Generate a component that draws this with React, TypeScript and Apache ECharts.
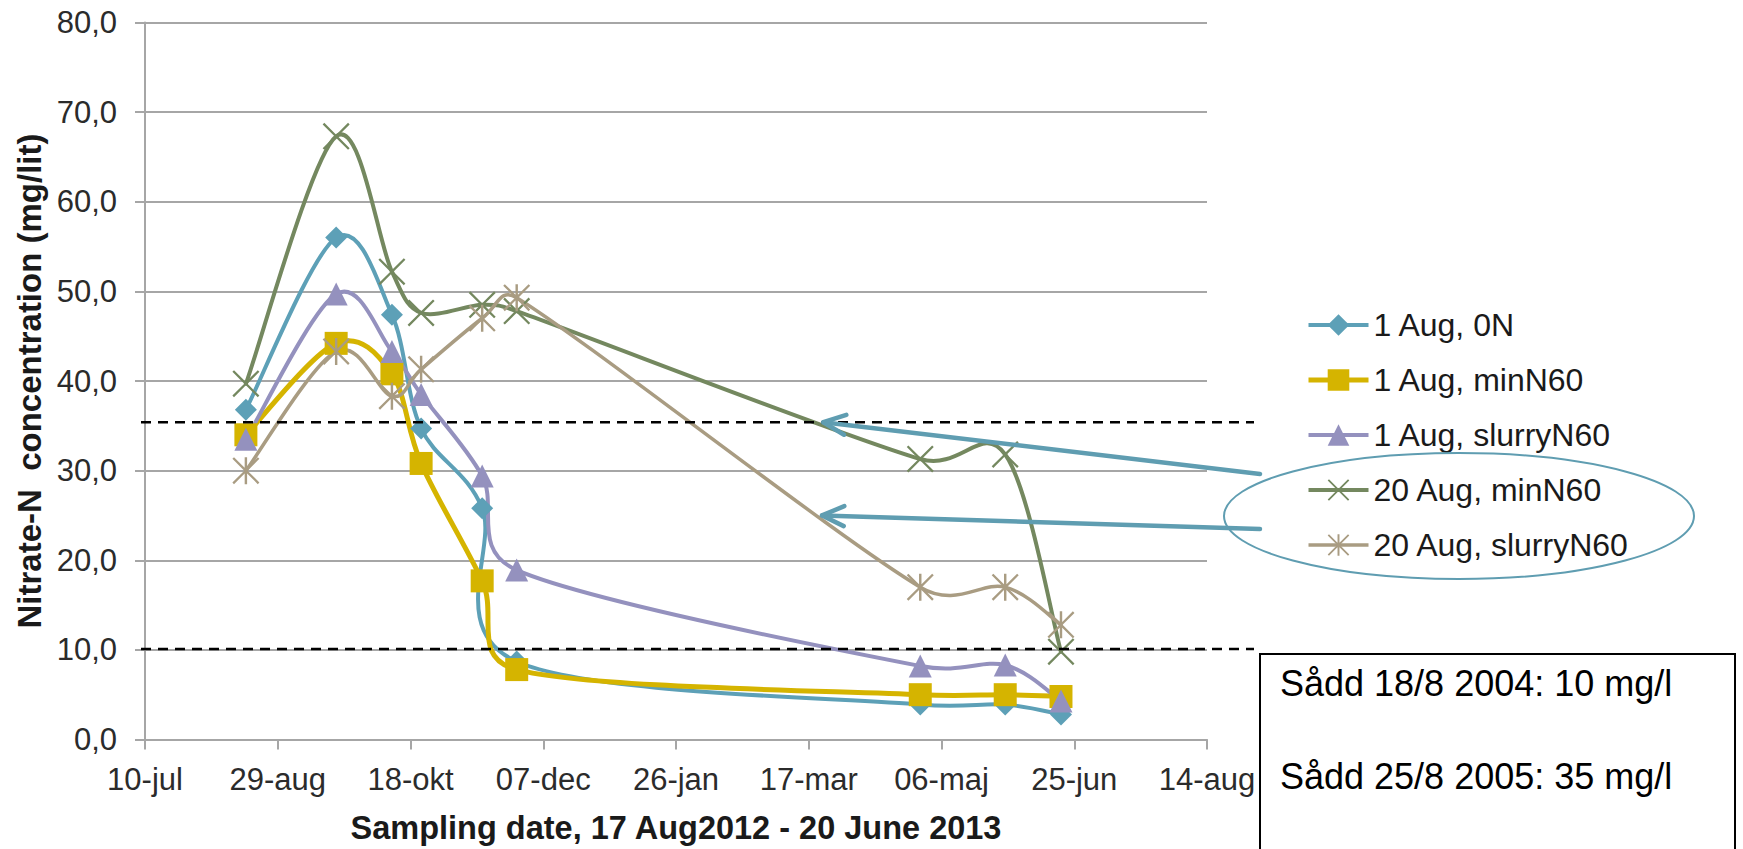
import { useEffect, useRef } from "react";
import * as echarts from "echarts";

// ---------- data ----------
const AXIS_START = "2012-07-10";
const X_TICK_STEP_DAYS = 50;
const X_TICK_LABELS = ["10-jul", "29-aug", "18-okt", "07-dec", "26-jan", "17-mar", "06-maj", "25-jun", "14-aug"];
const Y_TICK_LABELS = ["0,0", "10,0", "20,0", "30,0", "40,0", "50,0", "60,0", "70,0", "80,0"];
const Y_TICK_STEP = 10;

const SAMPLE_DATES = [
  "2012-08-17", "2012-09-20", "2012-10-11", "2012-10-22", "2012-11-14",
  "2012-11-27", "2013-04-28", "2013-05-30", "2013-06-20",
];

const SERIES_NAMES = ["1 Aug, 0N", "1 Aug, minN60", "1 Aug, slurryN60", "20 Aug, minN60", "20 Aug, slurryN60"];
const AUG1_0N = [36.8, 56.0, 47.4, 34.7, 25.8, 8.7, 3.9, 3.9, 2.8];
const AUG1_MIN_N60 = [34.0, 44.2, 40.8, 30.8, 17.7, 7.8, 5.0, 5.0, 4.8];
const AUG1_SLURRY_N60 = [33.5, 49.7, 43.3, 38.5, 29.4, 18.9, 8.2, 8.3, 4.3];
const AUG20_MIN_N60 = [39.7, 67.3, 52.2, 47.6, 48.5, 47.8, 31.3, 31.8, 9.8];
const AUG20_SLURRY_N60 = [30.0, 43.3, 38.3, 41.3, 47.0, 49.3, 17.0, 17.0, 12.8];

// threshold lines (mg/l) and the points the arrows aim at [day, value]
const THRESHOLD_HIGH = 35.4;
const THRESHOLD_LOW = 10.1;
const ARROW_TARGETS = [
  [255.5, 35.4],
  [255.0, 25.0],
];
const NOTE_LINES = ["Sådd 18/8 2004: 10 mg/l", "Sådd 25/8 2005: 35 mg/l"];

const X_AXIS_TITLE = "Sampling date, 17 Aug2012 - 20 June 2013";
const Y_AXIS_TITLE = "Nitrate-N  concentration (mg/lit)";

// ---------- helpers ----------
const DAY_MS = 86400000;
const toDay = (s: string) => {
  const [y, m, d] = s.split("-").map(Number);
  const [y0, m0, d0] = AXIS_START.split("-").map(Number);
  return Math.round((Date.UTC(y, m - 1, d) - Date.UTC(y0, m0 - 1, d0)) / DAY_MS);
};
const DAYS = SAMPLE_DATES.map(toDay);

const FONT = '"Liberation Sans", Arial, Helvetica, sans-serif';
const X_SYMBOL =
  "path://M0,1.2L1.2,0L10,8.8L18.8,0L20,1.2L11.2,10L20,18.8L18.8,20L10,11.2L1.2,20L0,18.8L8.8,10Z";
const STAR_SYMBOL =
  "path://M0,1.2L1.2,0L10,8.8L18.8,0L20,1.2L11.2,10L20,18.8L18.8,20L10,11.2L1.2,20L0,18.8L8.8,10Z" +
  "M9.1,0L10.9,0L10.9,20L9.1,20Z";
const ANNOT = "#5F9DB1";

// Excel-style smoothed line: cubic Bezier with 1/6 tangents, arms capped at half the segment
function smoothPath(pts: number[][]) {
  const n = pts.length;
  const dist = (a: number[], b: number[]) => Math.hypot(a[0] - b[0], a[1] - b[1]);
  let d = `M${pts[0][0]},${pts[0][1]}`;
  for (let i = 0; i < n - 1; i++) {
    const p0 = pts[Math.max(i - 1, 0)];
    const p1 = pts[i];
    const p2 = pts[i + 1];
    const p3 = pts[Math.min(i + 2, n - 1)];
    const d12 = dist(p1, p2);
    const d02 = dist(p0, p2);
    const d13 = dist(p1, p3);
    const f0 = d02 / 6 < d12 / 2 || d02 === 0 ? 1 / 6 : d12 / d02 / 2;
    const f1 = d13 / 6 < d12 / 2 || d13 === 0 ? 1 / 6 : d12 / d13 / 2;
    const c1 = [p1[0] + (p2[0] - p0[0]) * f0, p1[1] + (p2[1] - p0[1]) * f0];
    const c2 = [p2[0] - (p3[0] - p1[0]) * f1, p2[1] - (p3[1] - p1[1]) * f1];
    d += `C${c1[0]},${c1[1]},${c2[0]},${c2[1]},${p2[0]},${p2[1]}`;
  }
  return d;
}

function makeCurve(name: string, values: number[], color: string, width: number) {
  return {
    name: name + " (curve)",
    type: "custom",
    silent: true,
    clip: false,
    data: DAYS.map((d, i) => [d, values[i]]),
    encode: { x: 0, y: 1 },
    renderItem: (params: any, api: any) => {
      if (params.dataIndex !== 0) return null;
      const pts = DAYS.map((d, i) => api.coord([d, values[i]]));
      return {
        type: "path",
        shape: { pathData: smoothPath(pts) },
        style: { fill: "none", stroke: color, lineWidth: width, lineJoin: "round", lineCap: "round" },
      };
    },
  };
}

function makeMarkers(name: string, values: number[], color: string, symbol: string, symbolSize: number) {
  return {
    name,
    type: "line",
    data: DAYS.map((d, i) => [d, values[i]]),
    symbol,
    symbolSize,
    symbolKeepAspect: true,
    showSymbol: true,
    clip: false,
    lineStyle: { color, width: 0, opacity: 0 },
    itemStyle: { color, borderWidth: 0 },
    emphasis: { disabled: true },
  };
}

const STYLES = [
  { values: AUG1_0N, color: "#5DA0B7", symbol: "diamond", size: 22, width: 4 },
  { values: AUG1_MIN_N60, color: "#D5B400", symbol: "rect", size: 23, width: 5 },
  { values: AUG1_SLURRY_N60, color: "#9491BE", symbol: "triangle", size: 23, width: 4 },
  { values: AUG20_MIN_N60, color: "#74885F", symbol: X_SYMBOL, size: 27, width: 4 },
  { values: AUG20_SLURRY_N60, color: "#A99C82", symbol: STAR_SYMBOL, size: 27, width: 3.5 },
];

export default function App() {
  const ref = useRef<HTMLDivElement>(null);

  useEffect(() => {
    if (!ref.current) return;
    const chart = echarts.init(ref.current, undefined, { renderer: "svg" });
    const xMax = X_TICK_STEP_DAYS * (X_TICK_LABELS.length - 1);
    const yMax = Y_TICK_STEP * (Y_TICK_LABELS.length - 1);

    const series: any[] = [];
    STYLES.forEach((s, i) => {
      series.push(makeCurve(SERIES_NAMES[i], s.values, s.color, s.width));
      series.push(makeMarkers(SERIES_NAMES[i], s.values, s.color, s.symbol, s.size));
    });

    chart.setOption({
      animation: false,
      backgroundColor: "#ffffff",
      textStyle: { fontFamily: FONT },
      grid: { left: 145, right: 536, top: 22.5, bottom: 107.5, containLabel: false },
      xAxis: {
        type: "value",
        min: 0,
        max: xMax,
        interval: X_TICK_STEP_DAYS,
        name: X_AXIS_TITLE,
        nameLocation: "middle",
        nameGap: 88,
        nameTextStyle: {
          fontSize: 32.5,
          fontWeight: "bold",
          color: "#1a1a1a",
          fontFamily: FONT,
          verticalAlign: "middle",
        },
        axisLine: { show: true, lineStyle: { color: "#a6a6a6", width: 2 } },
        axisTick: { show: true, length: 10, lineStyle: { color: "#a6a6a6", width: 2 } },
        axisLabel: {
          fontSize: 31,
          lineHeight: 32,
          color: "#2b2b2b",
          margin: 24,
          fontFamily: FONT,
          formatter: (v: number) => X_TICK_LABELS[Math.round(v / X_TICK_STEP_DAYS)] ?? "",
        },
        splitLine: { show: false },
      },
      yAxis: {
        type: "value",
        min: 0,
        max: yMax,
        interval: Y_TICK_STEP,
        name: Y_AXIS_TITLE,
        nameLocation: "middle",
        nameGap: 116,
        nameRotate: 90,
        nameTextStyle: {
          fontSize: 33,
          fontWeight: "bold",
          color: "#1a1a1a",
          fontFamily: FONT,
          verticalAlign: "middle",
          align: "center",
        },
        axisLine: { show: true, lineStyle: { color: "#a6a6a6", width: 2 } },
        axisTick: { show: true, length: 10, lineStyle: { color: "#a6a6a6", width: 2 } },
        axisLabel: {
          fontSize: 31,
          color: "#2b2b2b",
          margin: 28,
          fontFamily: FONT,
          formatter: (v: number) => Y_TICK_LABELS[Math.round(v / Y_TICK_STEP)] ?? "",
        },
        splitLine: { show: true, lineStyle: { color: "#a6a6a6", width: 2 } },
      },
      legend: {
        orient: "vertical",
        left: 1306,
        top: 309,
        padding: 0,
        itemWidth: 60,
        itemHeight: 27,
        itemGap: 23,
        data: SERIES_NAMES.map((name, i) => ({
          name,
          lineStyle: { color: STYLES[i].color, width: STYLES[i].width, opacity: 1, type: "solid" },
        })),
        textStyle: { fontSize: 32, lineHeight: 32, color: "#1a1a1a", fontFamily: FONT },
        selectedMode: false,
      },
      series,
    });

    // ---------- annotations ----------
    const yHigh = chart.convertToPixel({ yAxisIndex: 0 }, THRESHOLD_HIGH) as number;
    const yLow = chart.convertToPixel({ yAxisIndex: 0 }, THRESHOLD_LOW) as number;
    const tails = [
      [1260, 474],
      [1260, 529],
    ];
    const arrows: any[] = [];
    ARROW_TARGETS.forEach((t, i) => {
      const [tx, ty] = chart.convertToPixel({ gridIndex: 0 }, t) as number[];
      const [sx, sy] = tails[i];
      const dx = tx - sx;
      const dy = ty - sy;
      const len = Math.hypot(dx, dy);
      const ux = dx / len;
      const uy = dy / len;
      const L = 22;
      const W = 10;
      arrows.push({
        type: "line",
        z: 100,
        shape: { x1: sx, y1: sy, x2: tx, y2: ty },
        style: { stroke: ANNOT, lineWidth: 4.5, lineCap: "round" },
      });
      arrows.push({
        type: "polyline",
        z: 100,
        shape: {
          points: [
            [tx - ux * L - uy * W, ty - uy * L + ux * W],
            [tx, ty],
            [tx - ux * L + uy * W, ty - uy * L - ux * W],
          ],
        },
        style: { stroke: ANNOT, lineWidth: 4.5, lineCap: "round", lineJoin: "round", fill: "none" },
      });
    });

    chart.setOption({
      graphic: [
        {
          type: "line",
          z: 90,
          shape: { x1: 141, y1: yHigh, x2: 1254, y2: yHigh },
          style: { stroke: "#000000", lineWidth: 2.5, lineDash: [10, 7] },
        },
        {
          type: "line",
          z: 90,
          shape: { x1: 141, y1: yLow, x2: 1254, y2: yLow },
          style: { stroke: "#000000", lineWidth: 2.5, lineDash: [10, 7] },
        },
        ...arrows,
        {
          type: "ellipse",
          z: 100,
          shape: { cx: 1459, cy: 516, rx: 235, ry: 63 },
          style: { fill: "none", stroke: ANNOT, lineWidth: 2 },
        },
        {
          type: "rect",
          z: 100,
          shape: { x: 1260, y: 654, width: 475, height: 240 },
          style: { fill: "#ffffff", stroke: "#000000", lineWidth: 2 },
        },
        {
          type: "text",
          z: 101,
          x: 1280,
          y: 683,
          style: {
            text: NOTE_LINES[0],
            fontSize: 36,
            fontFamily: FONT,
            fill: "#000000",
            verticalAlign: "middle",
          },
        },
        {
          type: "text",
          z: 101,
          x: 1280,
          y: 776,
          style: {
            text: NOTE_LINES[1],
            fontSize: 36,
            fontFamily: FONT,
            fill: "#000000",
            verticalAlign: "middle",
          },
        },
      ],
    });

    return () => {
      chart.dispose();
    };
  }, []);

  return (
    <div
      ref={ref}
      style={{ position: "fixed", left: 0, top: 0, width: 1743, height: 849, background: "#fff" }}
    />
  );
}
